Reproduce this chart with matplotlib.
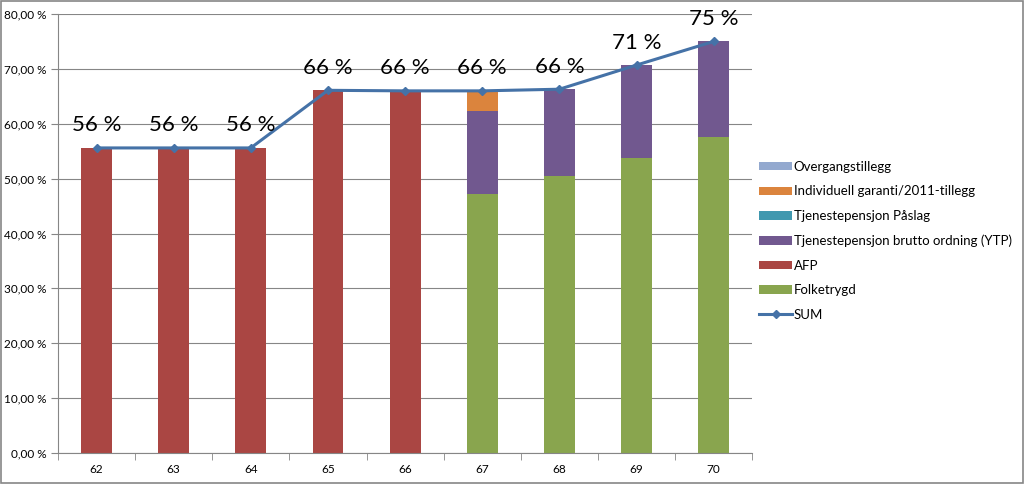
import matplotlib
matplotlib.use("Agg")
import matplotlib.pyplot as plt
from matplotlib.ticker import FuncFormatter, MultipleLocator, FixedLocator
from matplotlib.patches import Rectangle
import numpy as np

plt.rcParams['font.family'] = ['Lato', 'DejaVu Sans']

ages = ["62", "63", "64", "65", "66", "67", "68", "69", "70"]

folketrygd = [0, 0, 0, 0, 0, 47.2, 50.4, 53.8, 57.6]
afp = [55.6, 55.6, 55.6, 66.1, 66.0, 0, 0, 0, 0]
ytp = [0, 0, 0, 0, 0, 15.1, 15.9, 16.9, 17.4]
paslag = [0, 0, 0, 0, 0, 0, 0, 0, 0]
individuell = [0, 0, 0, 0, 0, 3.7, 0, 0, 0]
overgang = [0, 0, 0, 0, 0, 0, 0, 0, 0]

sum_labels = ["56 %", "56 %", "56 %", "66 %", "66 %", "66 %", "66 %", "71 %", "75 %"]

series = [
    ("Folketrygd", folketrygd, "#89A54E"),
    ("AFP", afp, "#AA4643"),
    ("Tjenestepensjon brutto ordning (YTP)", ytp, "#71588F"),
    ("Tjenestepensjon Påslag", paslag, "#4198AF"),
    ("Individuell garanti/2011-tillegg", individuell, "#DB843D"),
    ("Overgangstillegg", overgang, "#93A9CF"),
]

fig = plt.figure(figsize=(10.24, 4.84), dpi=100)
ax = fig.add_axes([0.0566, 0.064, 0.678, 0.907])

x = np.arange(len(ages))
bottom = np.zeros(len(ages))
handles = {}
for name, vals, color in series:
    h = ax.bar(x, vals, width=0.4, bottom=bottom, color=color, label=name, zorder=2)
    handles[name] = h
    bottom = bottom + np.array(vals)

total = bottom
line, = ax.plot(x, total, color="#4572A7", lw=2.2, marker="D", markersize=4,
                label="SUM", zorder=3)

for xi, yi, lab in zip(x, total, sum_labels):
    ax.annotate(lab, (xi, yi), xytext=(0, 9), textcoords="offset points",
                ha="center", va="bottom", fontsize=16, color="black")

ax.set_xlim(-0.5, len(ages) - 0.5)
ax.set_ylim(0, 80)
ax.yaxis.set_major_locator(MultipleLocator(10))
ax.yaxis.set_major_formatter(FuncFormatter(lambda v, p: f"{v:.2f}".replace(".", ",") + " %"))
ax.grid(axis="y", color="#868686", lw=0.8, zorder=0)
ax.set_xticks(x)
ax.set_xticklabels(ages)
ax.xaxis.set_minor_locator(FixedLocator(np.arange(-0.5, len(ages), 1)))
ax.tick_params(axis="x", which="major", length=0, labelsize=8.5, pad=8)
ax.tick_params(axis="x", which="minor", length=5, color="#868686", direction="out")
ax.tick_params(axis="y", length=5, color="#868686", labelsize=8.5, direction="out")
for s in ["top", "right"]:
    ax.spines[s].set_visible(False)
for s in ["left", "bottom"]:
    ax.spines[s].set_color("#868686")

order = ["Overgangstillegg", "Individuell garanti/2011-tillegg", "Tjenestepensjon Påslag",
         "Tjenestepensjon brutto ordning (YTP)", "AFP", "Folketrygd"]
leg_handles = [handles[n] for n in order] + [line]
leg_labels = order + ["SUM"]
fig.legend(leg_handles, leg_labels, loc="upper left", bbox_to_anchor=(0.73, 0.692),
           frameon=False, fontsize=9.5, handlelength=2.5, handleheight=0.6,
           labelspacing=0.95, handletextpad=0.1)

fig.patches.append(Rectangle((0.001, 0.002), 0.998, 0.996, transform=fig.transFigure,
                             fill=False, edgecolor="#868686", lw=1.2))

fig.savefig("out.png", dpi=100)
